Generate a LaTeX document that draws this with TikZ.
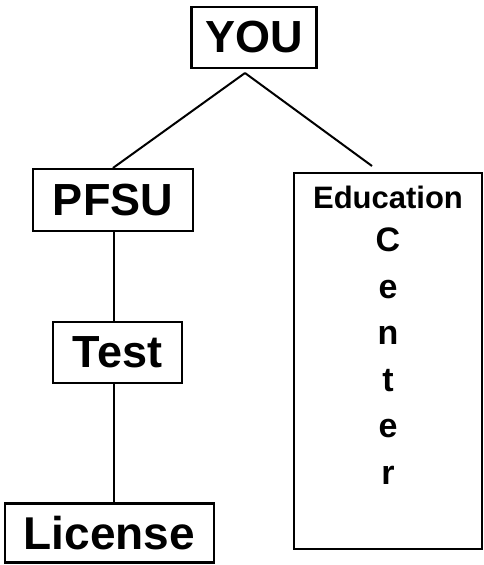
\documentclass[tikz,border=0pt]{standalone}
\usepackage{fontspec}
\setmainfont{Liberation Sans}
\begin{document}
\begin{tikzpicture}[x=1pt,y=-1pt,
  box/.style={draw=black,line width=2.1pt,inner sep=0pt,font=\bfseries\fontsize{45}{54}\selectfont},
  conn/.style={line width=2pt}]
\useasboundingbox (0,0) rectangle (484,565);
\node[box,minimum width=125pt,minimum height=61pt] (you) at (254,37.5) {YOU};
\node[box,minimum width=160pt,minimum height=62pt] (pfsu) at (113,200) {PFSU};
\node[box,minimum width=129pt,minimum height=61pt] (test) at (117.5,352.5) {Test};
\node[box,minimum width=209pt,minimum height=59pt,font=\bfseries\fontsize{46}{54}\selectfont] (license) at (109.5,533) {License};
\node[draw=black,line width=2.1pt,minimum width=188pt,minimum height=376pt,inner sep=0pt] (edu) at (388,361) {};
\node[anchor=base,inner sep=0pt,font=\bfseries\fontsize{31}{37}\selectfont] (edutitle) at (388,208) {Education};
\node[anchor=north,inner sep=0pt,align=center,font=\bfseries\fontsize{34}{46.5}\selectfont] (center) at (388,228) {C\\e\\n\\t\\e\\r};
\coordinate (apex) at (245,73);
\coordinate (eduend) at (372,166);
\draw[conn] (apex) -- (pfsu.north);
\draw[conn] (apex) -- (eduend);
\draw[conn] (pfsu.south -| 114,0) -- (test.north -| 114,0);
\draw[conn] (test.south -| 114,0) -- (license.north -| 114,0);
\end{tikzpicture}
\end{document}
